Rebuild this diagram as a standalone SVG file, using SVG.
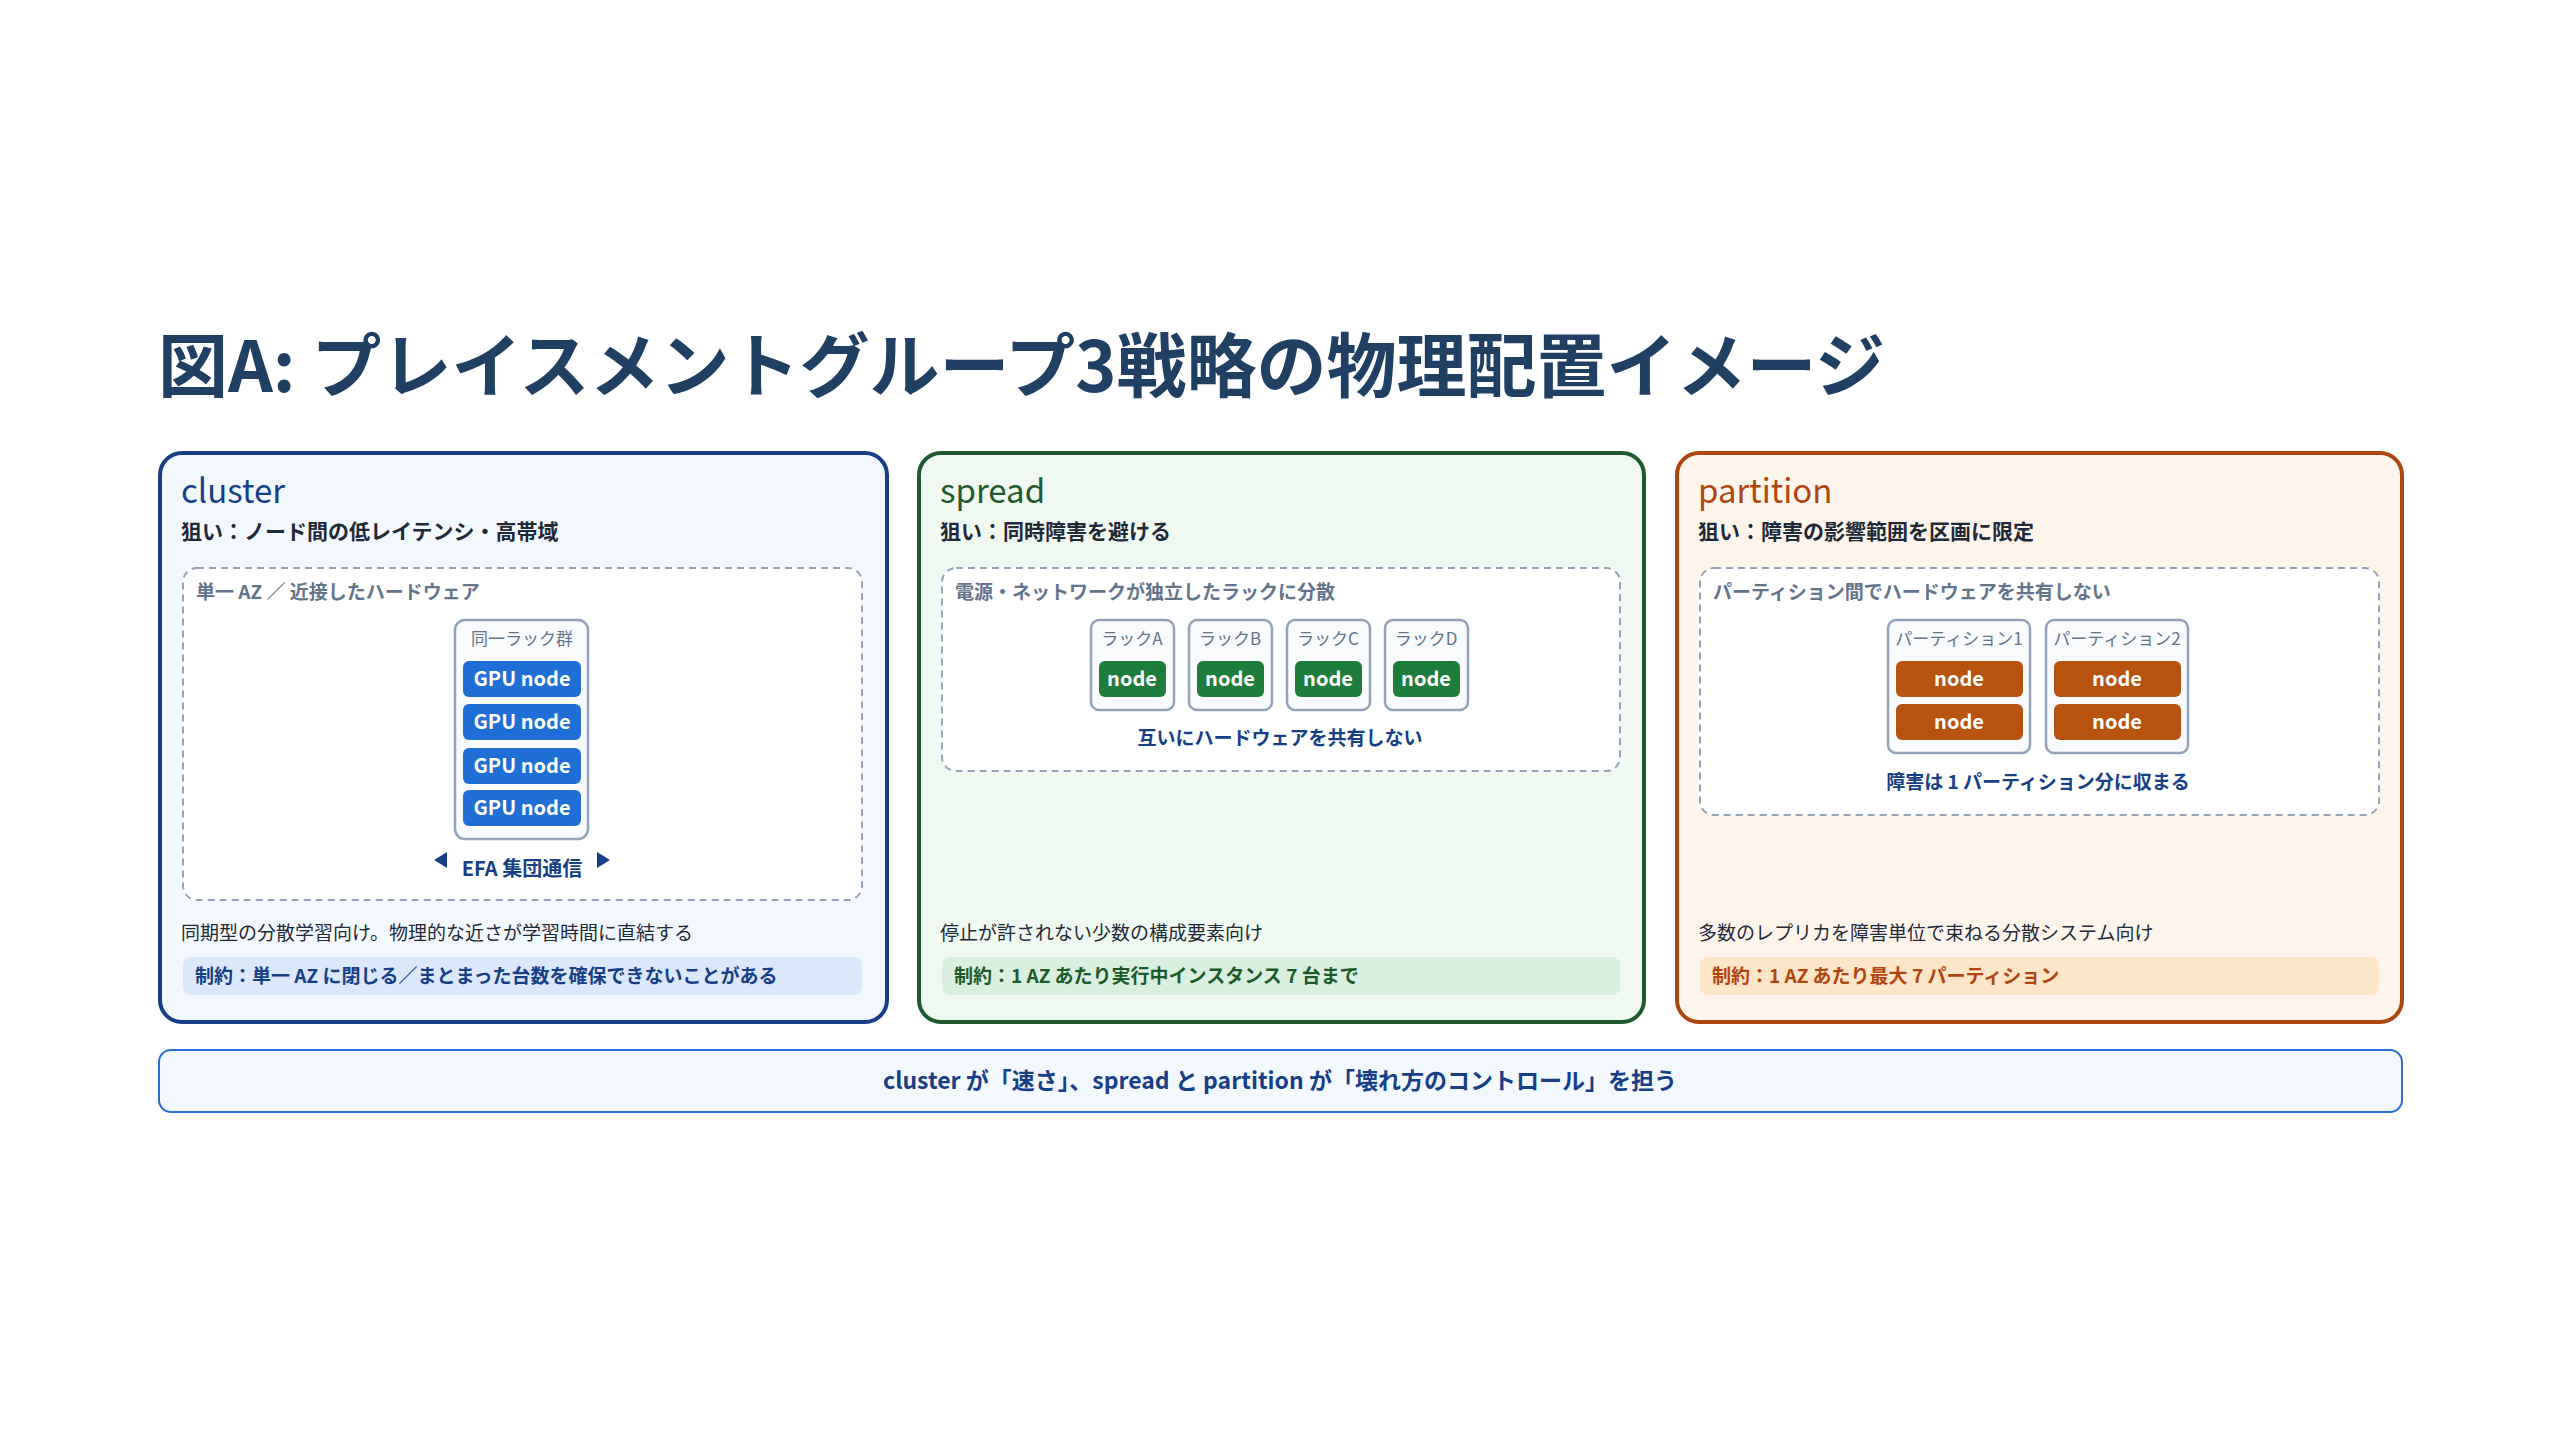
<svg xmlns="http://www.w3.org/2000/svg" width="2560" height="1440" viewBox="0 0 2560 1440">
<style>
text{font-family:"Noto Sans CJK JP","Noto Sans",sans-serif}
.b{font-weight:700}
.dash{fill:#fff;stroke:#94a3b8;stroke-width:2;stroke-dasharray:7 5}
.rack{fill:#f8fafc;stroke:#94a3b8;stroke-width:2.5}
.lbl{font-size:19px;fill:#64748b;font-weight:700}
.rl{font-size:17px;fill:#64748b}
.nt{font-size:20px;fill:#fff;font-weight:700}
.desc{font-size:19px;fill:#1f2937}
.sub{font-size:21px;fill:#1f2937;font-weight:700}
</style>
<rect width="2560" height="1440" fill="#fff"/>
<text x="158" y="392" font-size="70" font-weight="700" fill="#1f3f63">図A: プレイスメントグループ3戦略の物理配置イメージ</text>

<g id="cluster">
<rect x="160" y="453" width="727" height="569" rx="22" fill="#f3f8fe" stroke="#163f86" stroke-width="4"/>
<text x="181" y="503" font-size="33" fill="#163f86">cluster</text>
<text x="181" y="539" class="sub">狙い：ノード間の低レイテンシ・高帯域</text>
<rect x="183" y="568" width="679" height="332" rx="14" class="dash"/>
<text x="196" y="599" class="lbl">単一 AZ ／ 近接したハードウェア</text>
<rect x="455" y="620" width="133" height="219" rx="10" class="rack"/>
<text x="522" y="645" class="rl" text-anchor="middle">同一ラック群</text>
<g fill="#1f6fd6">
<rect x="463" y="661" width="118" height="36" rx="6"/><rect x="463" y="704" width="118" height="36" rx="6"/>
<rect x="463" y="748" width="118" height="36" rx="6"/><rect x="463" y="790" width="118" height="36" rx="6"/>
</g>
<g text-anchor="middle" class="nt">
<text x="522" y="686" class="nt">GPU node</text><text x="522" y="729" class="nt">GPU node</text>
<text x="522" y="773" class="nt">GPU node</text><text x="522" y="815" class="nt">GPU node</text>
</g>
<polygon points="434,860 447,852 447,868" fill="#163f86"/>
<polygon points="610,860 597,852 597,868" fill="#163f86"/>
<text x="522" y="876" text-anchor="middle" font-size="20" class="b" fill="#163f86">EFA 集団通信</text>
<text x="181" y="940" class="desc">同期型の分散学習向け。物理的な近さが学習時間に直結する</text>
<rect x="183" y="957" width="679" height="38" rx="8" fill="#dbe7fb"/>
<text x="195" y="983" font-size="19" class="b" fill="#163f86">制約：単一 AZ に閉じる／まとまった台数を確保できないことがある</text>
</g>

<g id="spread">
<rect x="919" y="453" width="725" height="569" rx="22" fill="#eff8f1" stroke="#1f5a2e" stroke-width="4"/>
<text x="940" y="503" font-size="33" fill="#1f5a2e">spread</text>
<text x="940" y="539" class="sub">狙い：同時障害を避ける</text>
<rect x="942" y="568" width="678" height="203" rx="14" class="dash"/>
<text x="955" y="599" class="lbl">電源・ネットワークが独立したラックに分散</text>
<g class="rack">
<rect x="1091" y="620" width="83" height="90" rx="8"/><rect x="1189" y="620" width="83" height="90" rx="8"/>
<rect x="1287" y="620" width="83" height="90" rx="8"/><rect x="1385" y="620" width="83" height="90" rx="8"/>
</g>
<g fill="#1e7d3a">
<rect x="1099" y="661" width="67" height="36" rx="6"/><rect x="1197" y="661" width="67" height="36" rx="6"/>
<rect x="1295" y="661" width="67" height="36" rx="6"/><rect x="1393" y="661" width="67" height="36" rx="6"/>
</g>
<g text-anchor="middle">
<text x="1132" y="645" class="rl">ラックA</text><text x="1230" y="645" class="rl">ラックB</text>
<text x="1328" y="645" class="rl">ラックC</text><text x="1426" y="645" class="rl">ラックD</text>
<text x="1132" y="686" class="nt">node</text><text x="1230" y="686" class="nt">node</text>
<text x="1328" y="686" class="nt">node</text><text x="1426" y="686" class="nt">node</text>
<text x="1280" y="745" font-size="19" class="b" fill="#163f86">互いにハードウェアを共有しない</text>
</g>
<text x="940" y="940" class="desc">停止が許されない少数の構成要素向け</text>
<rect x="942" y="957" width="678" height="38" rx="8" fill="#d9efdf"/>
<text x="954" y="983" font-size="19" class="b" fill="#1d5a2b">制約：1 AZ あたり実行中インスタンス 7 台まで</text>
</g>

<g id="partition">
<rect x="1677" y="453" width="725" height="569" rx="22" fill="#fdf5ec" stroke="#b0460f" stroke-width="4"/>
<text x="1698" y="503" font-size="33" fill="#b0460f">partition</text>
<text x="1698" y="539" class="sub">狙い：障害の影響範囲を区画に限定</text>
<rect x="1700" y="568" width="679" height="247" rx="14" class="dash"/>
<text x="1713" y="599" class="lbl">パーティション間でハードウェアを共有しない</text>
<g class="rack">
<rect x="1888" y="620" width="142" height="133" rx="8"/><rect x="2046" y="620" width="142" height="133" rx="8"/>
</g>
<g fill="#b8520f">
<rect x="1896" y="661" width="127" height="36" rx="6"/><rect x="1896" y="704" width="127" height="36" rx="6"/>
<rect x="2054" y="661" width="127" height="36" rx="6"/><rect x="2054" y="704" width="127" height="36" rx="6"/>
</g>
<g text-anchor="middle">
<text x="1959" y="645" class="rl">パーティション1</text><text x="2117" y="645" class="rl">パーティション2</text>
<text x="1959" y="686" class="nt">node</text><text x="1959" y="729" class="nt">node</text>
<text x="2117" y="686" class="nt">node</text><text x="2117" y="729" class="nt">node</text>
<text x="2038" y="789" font-size="19" class="b" fill="#163f86">障害は 1 パーティション分に収まる</text>
</g>
<text x="1698" y="940" class="desc">多数のレプリカを障害単位で束ねる分散システム向け</text>
<rect x="1700" y="957" width="679" height="38" rx="8" fill="#fde5c8"/>
<text x="1712" y="983" font-size="19" class="b" fill="#b0460f">制約：1 AZ あたり最大 7 パーティション</text>
</g>

<g id="summary">
<rect x="159" y="1050" width="2243" height="62" rx="12" fill="#f3f8fe" stroke="#2a6fd6" stroke-width="2"/>
<text x="1280" y="1089" text-anchor="middle" font-size="23" class="b" fill="#163f86">cluster が「速さ」、spread と partition が「壊れ方のコントロール」を担う</text>
</g>
<g id="connectors"/>
</svg>
